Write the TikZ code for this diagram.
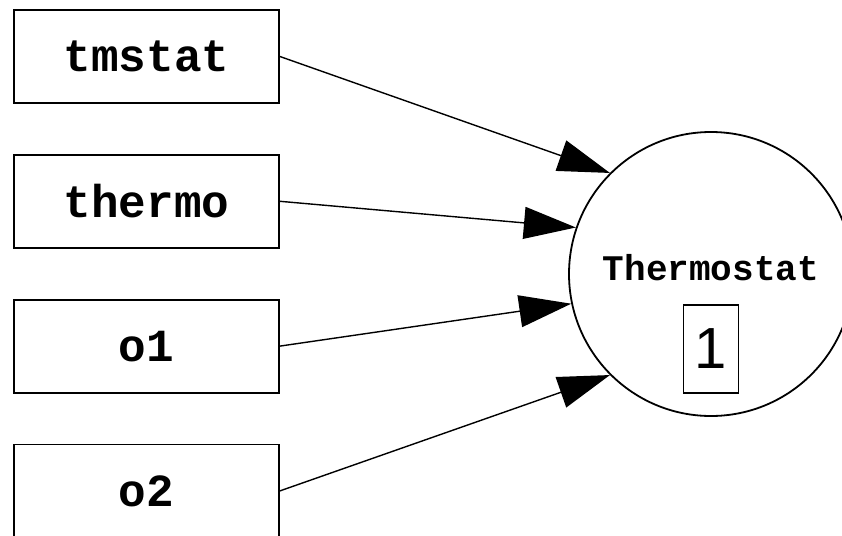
\documentclass[tikz,border=0pt]{standalone}
\usepackage{fontspec}
\setmonofont{Liberation Mono}
\setsansfont{Liberation Sans}
\usetikzlibrary{positioning,arrows.meta}

\begin{document}
\begin{tikzpicture}[
                node distance=50pt,
                srcbox/.style={draw, line width=1.8pt, minimum width=265pt,
                               minimum height=93pt, inner sep=0pt,
                               font=\ttfamily\bfseries\fontsize{46}{46}\selectfont},
                target/.style={draw, circle, line width=1.8pt,
                               minimum size=284pt, inner sep=0pt},
                arrow/.style={-{Triangle[length=52pt,width=32pt]}, line width=1.4pt}
            ]
                \useasboundingbox (0,0) rectangle (842pt,-535pt);
                \node[srcbox] (tmstat) at (146.5pt,-56.5pt) {tmstat};
                \node[srcbox, below=of tmstat] (thermo) {thermo};
                \node[srcbox, below=of thermo] (o1) {o1};
                \node[srcbox, below=of o1] (o2) {o2};
                \node[target] (th) at (711pt,-274pt) {};
                \node[font=\ttfamily\bfseries\fontsize{36}{36}\selectfont]
                    (thname) at ([yshift=6pt]th.center) {Thermostat};
                \node[draw, line width=1.5pt, minimum width=55pt, minimum height=88pt,
                      inner sep=0pt, font=\sffamily\fontsize{58}{58}\selectfont]
                    (thnum) at ([yshift=-75pt]th.center) {1};
                \draw[arrow] (tmstat.east) -- (th.135);
                \draw[arrow] (thermo.east) -- (th.161);
                \draw[arrow] (o1.east) -- (th.192);
                \draw[arrow] (o2.east) -- (th.225);
            \end{tikzpicture}
\end{document}
